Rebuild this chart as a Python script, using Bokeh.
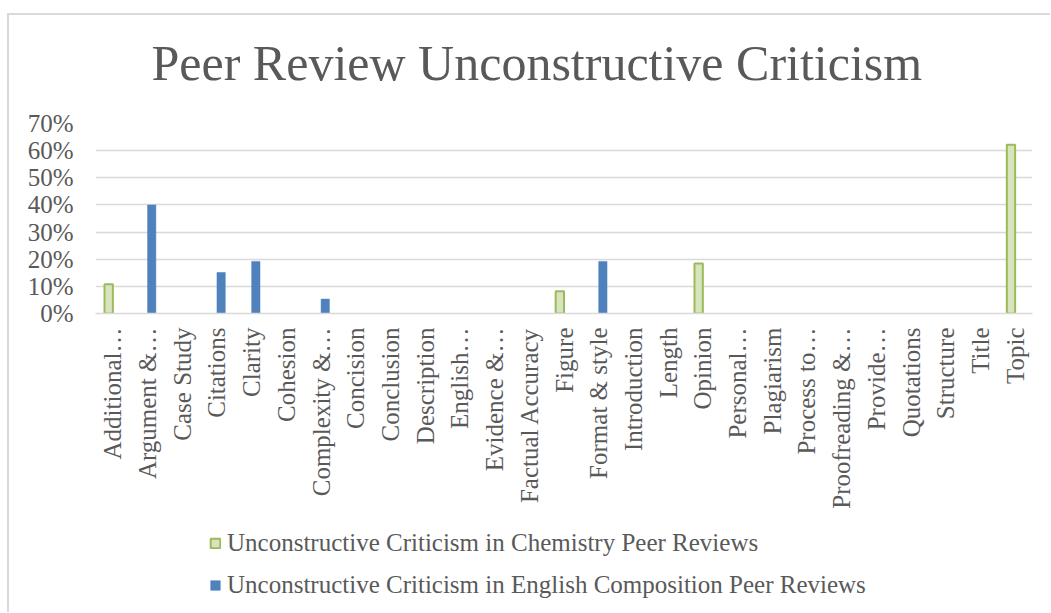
import math
from bokeh.plotting import figure
from bokeh.layouts import column
from bokeh.models import (ColumnDataSource, FixedTicker, NumeralTickFormatter,
                          Legend, LegendItem, Title)
from bokeh.transform import dodge
from bokeh.embed import file_html
from bokeh.resources import INLINE

categories = ["Additional…", "Argument &…", "Case Study", "Citations", "Clarity",
              "Cohesion", "Complexity &…", "Concision", "Conclusion", "Description",
              "English…", "Evidence &…", "Factual Accuracy", "Figure", "Format & style",
              "Introduction", "Length", "Opinion", "Personal…", "Plagiarism",
              "Process to…", "Proofreading &…", "Provide…", "Quotations", "Structure",
              "Title", "Topic"]
chemistry = [0.108, 0, 0, 0, 0, 0, 0, 0, 0, 0, 0, 0, 0, 0.082, 0, 0, 0, 0.184,
             0, 0, 0, 0, 0, 0, 0, 0, 0.622]
english = [0, 0.40, 0, 0.151, 0.192, 0, 0.053, 0, 0, 0, 0, 0, 0, 0, 0.192, 0, 0, 0,
           0, 0, 0, 0, 0, 0, 0, 0, 0]
y_ticks = [0, 0.1, 0.2, 0.3, 0.4, 0.5, 0.6, 0.7]
series_names = ["Unconstructive Criticism in Chemistry Peer Reviews",
                "Unconstructive Criticism in English Composition Peer Reviews"]
title_text = "Peer Review Unconstructive Criticism"

FONT = "Liberation Serif"
TXT = "#595959"
CHEM_FILL, CHEM_LINE = "#D7E4BD", "#9BBB59"
ENG_FILL = "#4F81BD"
W = 1041

def nz(vals):
    c = [k for k, v in zip(categories, vals) if v > 0]
    t = [v for v in vals if v > 0]
    return ColumnDataSource(dict(cat=c, top=t))

src_chem = nz(chemistry)
src_eng = nz(english)

def blank(fig):
    fig.axis.visible = False
    fig.grid.visible = False
    fig.outline_line_color = None
    fig.border_fill_color = "white"
    fig.background_fill_color = "white"

# ---- title strip ----
tf = figure(width=W, height=84, x_range=(0, 1), y_range=(0, 1),
            output_backend="svg", toolbar_location=None,
            min_border_left=86, min_border_right=18, min_border_top=80,
            min_border_bottom=0)
blank(tf)
tf.add_layout(Title(text=title_text, align="left", offset=56, standoff=10,
                    text_font=FONT, text_font_size="50px", text_color=TXT,
                    text_font_style="normal"), "above")

# ---- main chart ----
p = figure(x_range=categories, y_range=(0, 0.7), width=W, height=426,
           output_backend="svg", toolbar_location=None,
           min_border_left=86, min_border_right=18, min_border_top=24,
           min_border_bottom=212)
p.x_range.range_padding = 0
p.outline_line_color = None
p.background_fill_color = "white"
p.border_fill_color = "white"

p.vbar(x=dodge("cat", -0.12, range=p.x_range), top="top", width=0.24,
       source=src_chem, fill_color=CHEM_FILL, line_color=CHEM_LINE, line_width=2)
p.vbar(x=dodge("cat", 0.12, range=p.x_range), top="top", width=0.24,
       source=src_eng, fill_color=ENG_FILL, line_color=ENG_FILL, line_width=0.5)

p.xgrid.grid_line_color = None
p.ygrid.grid_line_color = "#D9D9D9"
p.ygrid.grid_line_width = 1.5
p.yaxis.ticker = FixedTicker(ticks=y_ticks)
p.yaxis.formatter = NumeralTickFormatter(format="0%")
p.yaxis.axis_line_color = None
p.yaxis.major_tick_line_color = None
p.yaxis.minor_tick_line_color = None
p.yaxis.major_label_standoff = 16
p.yaxis.major_label_text_font = FONT
p.yaxis.major_label_text_font_size = "25px"
p.yaxis.major_label_text_color = TXT

p.xaxis.axis_line_color = "#D9D9D9"
p.xaxis.axis_line_width = 1.5
p.xaxis.major_tick_line_color = None
p.xaxis.minor_tick_line_color = None
p.xaxis.major_label_orientation = math.pi / 2
p.xaxis.major_label_standoff = 8
p.xaxis.major_label_text_font = FONT
p.xaxis.major_label_text_font_size = "25px"
p.xaxis.major_label_text_color = TXT

# ---- legend strip (hidden proxy renderers share the chart's data and style) ----
lf = figure(width=W, height=87, x_range=categories, y_range=(0, 0.7),
            output_backend="svg", toolbar_location=None,
            min_border_left=86, min_border_right=18, min_border_top=0,
            min_border_bottom=0)
blank(lf)
d1 = lf.vbar(x="cat", top="top", width=0.24, source=src_chem,
             fill_color=CHEM_FILL, line_color=CHEM_LINE, line_width=2, visible=False)
d2 = lf.vbar(x="cat", top="top", width=0.24, source=src_eng,
             fill_color=ENG_FILL, line_color=ENG_FILL, line_width=0.5, visible=False)
legend = Legend(items=[LegendItem(label=series_names[0], renderers=[d1]),
                       LegendItem(label=series_names[1], renderers=[d2])],
                location=(114, 13), orientation="vertical",
                glyph_width=12, glyph_height=12, label_height=25, spacing=14,
                label_standoff=6, padding=0, margin=0,
                border_line_alpha=0, background_fill_alpha=0,
                inactive_fill_alpha=0,
                label_text_font=FONT, label_text_font_size="25px",
                label_text_color=TXT)
lf.add_layout(legend, "center")

layout = column(tf, p, lf, spacing=0)
layout.styles = {"border-top": "2px solid #D9D9D9", "border-left": "2px solid #D9D9D9",
                 "margin-top": "13px", "margin-left": "7px"}

open("out.html", "w").write(file_html(layout, INLINE))
